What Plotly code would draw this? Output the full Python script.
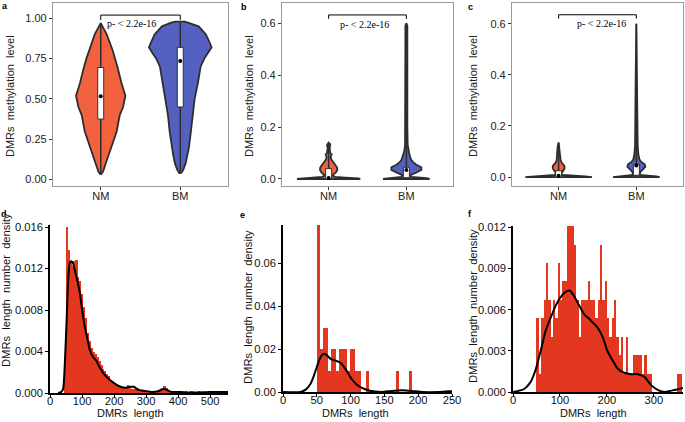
import numpy as np
import plotly.graph_objects as go

W, H = 685, 422
groups = ["NM", "BM"]

# ---------- violin density profiles (level, relative density) ----------
a_nm_y = [0.03, 0.05, 0.10, 0.15, 0.20, 0.25, 0.30, 0.40, 0.45, 0.52, 0.60, 0.70, 0.75, 0.80, 0.90, 0.97]
a_nm_d = [0, 7, 15, 23, 32, 40, 48, 57, 67, 74, 62, 50, 43, 36, 18, 0]
a_bm_y = [0.04, 0.06, 0.10, 0.15, 0.20, 0.30, 0.40, 0.50, 0.60, 0.70, 0.75, 0.78, 0.82, 0.85, 0.90, 0.95, 0.975, 0.98]
a_bm_d = [3, 9, 16, 21, 26, 32, 37, 43, 53, 61, 72, 82, 94, 88, 77, 55, 25, 14]
a_nm_box = [0.375, 0.517, 0.695]
a_bm_box = [0.45, 0.735, 0.82]

b_nm_y = [0, 0.002, 0.005, 0.008, 0.012, 0.018, 0.025, 0.035, 0.045, 0.055, 0.065, 0.075, 0.085, 0.09, 0.095, 0.10, 0.11, 0.12, 0.13, 0.135, 0.14]
b_nm_d = [95, 90, 50, 20, 12, 15, 22, 26, 25, 20, 14, 8, 6, 8, 9, 5, 3, 3, 5, 4, 0]
b_bm_y = [0, 0.003, 0.008, 0.015, 0.025, 0.035, 0.045, 0.055, 0.065, 0.075, 0.09, 0.11, 0.13, 0.2, 0.3, 0.4, 0.5, 0.59, 0.60]
b_bm_d = [70, 60, 15, 12, 30, 45, 45, 30, 20, 14, 10, 6, 4, 3, 3, 3, 3, 3, 0]
b_nm_box = [0.0, 0.004, 0.04]
b_bm_box = [0.005, 0.035, 0.045]

c_nm_y = [0, 0.003, 0.008, 0.015, 0.025, 0.035, 0.045, 0.055, 0.065, 0.08, 0.10, 0.12, 0.135]
c_nm_d = [100, 80, 12, 8, 14, 18, 17, 10, 6, 5, 4, 3, 0]
c_bm_y = [0, 0.003, 0.008, 0.02, 0.03, 0.04, 0.05, 0.06, 0.07, 0.09, 0.12, 0.2, 0.4, 0.6]
c_bm_d = [70, 60, 10, 12, 20, 27, 25, 14, 9, 6, 4, 3, 2, 0]
c_nm_box = [0.0, 0.005, 0.025]
c_bm_box = [0.007, 0.045, 0.05]

p_text = "p- < 2.2e-16"

# ---------- histograms (bin start, width, density) ----------
d_start, d_bw = 44, 6
d_hist = [0.0030, 0.0160, 0.0138, 0.0127, 0.0122, 0.0127, 0.0128, 0.0112, 0.0108, 0.0095,
          0.0083, 0.0072, 0.0058, 0.0050, 0.0043, 0.0040, 0.0038, 0.0035, 0.0031, 0.0027,
          0.0023, 0.0021, 0.0018, 0.0016, 0.0013, 0.0011, 0.0010, 0.0008, 0.0007, 0.0006,
          0.0006, 0.0005, 0.0006, 0.0008, 0.0006, 0.0004, 0.0004, 0.0005, 0.0005, 0.0003,
          0.0003, 0.0002, 0.0002, 0.0002, 0.0001, 0.0002, 0.0001, 0.0001, 0.0002, 0.0002,
          0.0003, 0.0004, 0.0007, 0.0005, 0.0002, 0.0001, 0.0001, 0.0000, 0.0001, 0.0002,
          0.0001, 0.0001, 0.0000, 0.0001, 0.0000, 0.0000, 0.0001, 0.0000, 0.0000, 0.0000,
          0.0001, 0.0000, 0.0000, 0.0000, 0.0000, 0.0001, 0.0002, 0.0001, 0.0001, 0.0000,
          0.0001, 0.0001, 0.0001, 0.0001, 0.0001, 0.0000]
d_kde_x = [25, 35, 41, 46, 52, 57, 62, 67, 72, 77, 87, 93, 100, 108, 117, 124, 134, 145, 156, 167,
           182, 198, 213, 234, 250, 262, 276, 296, 320, 340, 355, 365, 380, 400, 450, 500, 556]
d_kde_y = [0, 0.0001, 0.0004, 0.0026, 0.0071, 0.0110, 0.0126, 0.0127, 0.0125, 0.0119, 0.0106,
           0.0097, 0.0081, 0.0065, 0.0052, 0.0042, 0.0035, 0.0031, 0.0024, 0.0019, 0.0014,
           0.0010, 0.0007, 0.0005, 0.0006, 0.0006, 0.0003, 0.0002, 0.0001, 0.0002, 0.0004,
           0.0003, 0.0001, 0.0001, 0.00005, 0.0001, 0.0001]

e_start, e_bw = 51, 4
e_hist = [0.078, 0.02, 0.03, 0.03, 0.01, 0.02, 0.02, 0.01, 0.02, 0.02, 0.02, 0.01, 0.02, 0.02,
          0.01, 0.01, 0, 0, 0.01, 0, 0, 0, 0, 0, 0, 0, 0, 0, 0, 0.01, 0, 0, 0, 0, 0.01]
e_kde_x = [0, 26, 33.5, 41, 46, 51, 56, 61, 66, 71, 78.5, 86, 93.5, 101, 108.5, 116, 126, 136,
           146, 161, 176, 191, 206, 231, 246, 250]
e_kde_y = [0, 0, 0.0011, 0.0040, 0.0079, 0.0126, 0.0165, 0.0178, 0.0168, 0.0153, 0.0146, 0.0134,
           0.0102, 0.0063, 0.0036, 0.0020, 0.0008, 0.0002, 0, 0.0005, 0.0008, 0.0005, 0, 0,
           0.0003, 0.0004]

f_start, f_bw = 50, 5
f_hist = [0.0054, 0.0013, 0.0054, 0.0067, 0.0094, 0.0067, 0.0040, 0.0067, 0.0054, 0.0094,
          0.0067, 0.0081, 0.0081, 0.0121, 0.0121, 0.0121, 0.0107, 0.0067, 0.0040, 0.0067,
          0.0067, 0.0067, 0.0081, 0.0067, 0.0067, 0.0054, 0.0067, 0.0107, 0.0067, 0.0081,
          0.0054, 0.0040, 0.0054, 0.0067, 0.0040, 0.0027, 0.0040, 0.0013, 0.0040, 0.0013,
          0.0013, 0.0027, 0.0027, 0.0027, 0.0027, 0.0013, 0.0027, 0.0013, 0.0013,
          0, 0, 0, 0, 0, 0, 0, 0, 0, 0, 0, 0.0013, 0.0013]
f_kde_x = [0, 23, 37, 48, 59, 69, 80, 91, 101, 112, 121, 130, 141, 151, 166, 180, 191, 201, 212,
           223, 237, 251, 266, 280, 294, 309, 323, 337, 351, 362]
f_kde_y = [0, 0.0002, 0.0007, 0.0016, 0.0030, 0.0044, 0.0054, 0.0063, 0.0069, 0.0073, 0.0074,
           0.0070, 0.0063, 0.0057, 0.0052, 0.0047, 0.0040, 0.0030, 0.0023, 0.0017, 0.0014,
           0.0013, 0.0013, 0.0011, 0.0005, 0.00014, 0, 0.0001, 0.0002, 0.0003]

# ---------- styles ----------
NM_COL = "#F2623F"
BM_COL = "#5461C0"
HIST_COL = "#E3371F"
OUT = "#2d2d2d"
SANS = "Liberation Sans, Arial, sans-serif"
SERIF = "Liberation Serif, Times New Roman, serif"

fig = go.Figure()


def dom_x(a, b):
    return [a / W, b / W]


def dom_y(top, bot):
    return [1 - bot / H, 1 - top / H]


def add_violin(xc, ys, ds, scale, color, box, xa, ya, bw):
    ys = np.asarray(ys, float)
    w = np.asarray(ds, float) * scale
    x = np.concatenate([xc + w, (xc - w)[::-1], [xc + w[0]]])
    y = np.concatenate([ys, ys[::-1], [ys[0]]])
    fig.add_trace(go.Scatter(x=x, y=y, mode="lines", fill="toself", fillcolor=color,
                             line=dict(color=OUT, width=1.8), xaxis=xa, yaxis=ya,
                             hoverinfo="skip", showlegend=False))
    fig.add_trace(go.Scatter(x=[xc, xc], y=[ys.min(), ys.max()], mode="lines",
                             line=dict(color=OUT, width=1.5), xaxis=xa, yaxis=ya,
                             hoverinfo="skip", showlegend=False))
    q1, med, q3 = box
    fig.add_trace(go.Scatter(x=[xc - bw, xc + bw, xc + bw, xc - bw, xc - bw],
                             y=[q1, q1, q3, q3, q1], mode="lines", fill="toself",
                             fillcolor="white", line=dict(color=OUT, width=1),
                             xaxis=xa, yaxis=ya, hoverinfo="skip", showlegend=False))
    fig.add_trace(go.Scatter(x=[xc], y=[med], mode="markers",
                             marker=dict(color="black", size=4), xaxis=xa, yaxis=ya,
                             hoverinfo="skip", showlegend=False))


panels_top = [
    ("x", "y", a_nm_y, a_nm_d, a_bm_y, a_bm_d, a_nm_box, a_bm_box, 1 / 238.5, 3 / 79.5),
    ("x2", "y2", b_nm_y, b_nm_d, b_bm_y, b_bm_d, b_nm_box, b_bm_box, 1 / 233, 3 / 77.7),
    ("x3", "y3", c_nm_y, c_nm_d, c_bm_y, c_bm_d, c_nm_box, c_bm_box, 1 / 233, 3 / 77.7),
]
for xa, ya, ny, nd, by, bd, nbox, bbox, sc, bw in panels_top:
    add_violin(1, ny, nd, sc, NM_COL, nbox, xa, ya, bw)
    add_violin(2, by, bd, sc, BM_COL, bbox, xa, ya, bw)


def add_hist(start, bw, vals, kx, ky, xa, ya):
    centers = [start + bw * (i + 0.5) for i in range(len(vals))]
    fig.add_trace(go.Bar(x=centers, y=vals, width=bw, marker=dict(color=HIST_COL, line=dict(width=0)),
                         xaxis=xa, yaxis=ya, hoverinfo="skip", showlegend=False))
    fig.add_trace(go.Scatter(x=kx, y=ky, mode="lines", line=dict(color="black", width=2, shape="spline", smoothing=0.6),
                             xaxis=xa, yaxis=ya, hoverinfo="skip", showlegend=False))


add_hist(d_start, d_bw, d_hist, d_kde_x, d_kde_y, "x4", "y4")
add_hist(e_start, e_bw, e_hist, e_kde_x, e_kde_y, "x5", "y5")
add_hist(f_start, f_bw, f_hist, f_kde_x, f_kde_y, "x6", "y6")

tickfont = dict(family=SANS, size=11, color="#222")
tickfont_b = dict(family=SANS, size=11.2, color="#111")

top_x = dict(range=[0.4, 2.6], tickvals=[1, 2], ticktext=groups, showline=True, mirror=True,
             linecolor="#9a9a9a", linewidth=1.2, ticks="outside", ticklen=3, tickcolor="#333",
             tickfont=tickfont, showgrid=False, zeroline=False, automargin=False,
             ticklabelstandoff=-3)
top_y = dict(showline=True, mirror=True, linecolor="#9a9a9a", linewidth=1.2, ticks="outside",
             ticklen=3, tickcolor="#333", tickfont=tickfont, showgrid=False, zeroline=False,
             automargin=False)

bot_x = dict(showline=True, linecolor="black", linewidth=1.5, ticks="outside", ticklen=3,
             tickcolor="black", tickwidth=1.3, tickfont=tickfont_b, showgrid=False, zeroline=False,
             automargin=False, ticklabelstandoff=-6)
bot_y = dict(showline=True, linecolor="black", linewidth=1.5, ticks="outside", ticklen=3,
             tickcolor="black", tickwidth=1.3, tickfont=tickfont_b, showgrid=False, zeroline=False,
             automargin=False)

fig.update_layout(
    width=W, height=H, margin=dict(l=0, r=0, t=0, b=0, autoexpand=False),
    paper_bgcolor="white", plot_bgcolor="white", bargap=0, showlegend=False,
    xaxis=dict(top_x, domain=dom_x(53, 228), anchor="y"),
    yaxis=dict(top_y, domain=dom_y(3, 186), anchor="x", range=[-0.04, 1.095],
               tickvals=[0, 0.25, 0.5, 0.75, 1.0], tickformat=".2f"),
    xaxis2=dict(top_x, domain=dom_x(282, 453), anchor="y2"),
    yaxis2=dict(top_y, domain=dom_y(3, 186), anchor="x2", range=[-0.027, 0.678],
                tickvals=[0, 0.2, 0.4, 0.6], tickformat=".1f"),
    xaxis3=dict(top_x, domain=dom_x(512, 683), anchor="y3"),
    yaxis3=dict(top_y, domain=dom_y(3, 185.5), anchor="x3", range=[-0.033, 0.681],
                tickvals=[0, 0.2, 0.4, 0.6], tickformat=".1f"),
    xaxis4=dict(bot_x, domain=dom_x(50, 228), anchor="y4", range=[0, 556],
                tickvals=[0, 100, 200, 300, 400, 500]),
    yaxis4=dict(bot_y, domain=dom_y(225, 393), anchor="x4", range=[0, 0.0162],
                tickvals=[0, 0.004, 0.008, 0.012, 0.016], tickformat=".3f"),
    xaxis5=dict(bot_x, domain=dom_x(283, 452), anchor="y5", range=[0, 250],
                tickvals=[0, 50, 100, 150, 200, 250]),
    yaxis5=dict(bot_y, domain=dom_y(225, 392), anchor="x5", range=[0, 0.0779],
                tickvals=[0, 0.02, 0.04, 0.06], tickformat=".2f"),
    xaxis6=dict(bot_x, domain=dom_x(513, 683), anchor="y6", range=[0, 362],
                tickvals=[0, 100, 200, 300]),
    yaxis6=dict(bot_y, domain=dom_y(226, 392), anchor="x6", range=[0, 0.0121],
                tickvals=[0, 0.003, 0.006, 0.009, 0.012], tickformat=".3f"),
)

# significance brackets
brackets = [("x", "y", 1.02, 0.99, 1.39, 0.965),
            ("x2", "y2", 0.632, 0.617, 1.455, 0.596),
            ("x3", "y3", 0.635, 0.620, 1.554, 0.599)]
for xa, ya, top, leg, tx, ty in brackets:
    fig.add_shape(type="path", path=f"M 1,{leg} L 1,{top} L 2,{top} L 2,{leg}",
                  xref=xa, yref=ya, line=dict(color="black", width=1))
    fig.add_annotation(x=tx, y=ty, xref=xa, yref=ya, text=p_text, showarrow=False,
                       xanchor="center", yanchor="middle",
                       font=dict(family=SERIF, size=10, color="black"))

ann = []
# panel letters
for letter, px, py in [("a", 5, 6), ("b", 244, 7), ("c", 470, 7), ("d", 4, 214), ("e", 242, 215), ("f", 470, 214)]:
    ann.append(dict(x=px / W, y=1 - py / H, text=f"<b>{letter}</b>",
                    font=dict(family=SANS, size=9, color="black")))
sp = "\u00a0 "
ytop = f"DMRs{sp}methylation{sp}level"
ybot = f"DMRs{sp}length{sp}number{sp}density"
for px, py in [(10, 96), (249, 96), (473, 96)]:
    ann.append(dict(x=px / W, y=1 - py / H, text=ytop, textangle=-90,
                    font=dict(family=SANS, size=11, color="#222")))
for px, py in [(6, 290), (248, 307), (473, 306)]:
    ann.append(dict(x=px / W, y=1 - py / H, text=ybot, textangle=-90,
                    font=dict(family=SANS, size=11.2, color="#111")))
for px in [130, 355, 593]:
    ann.append(dict(x=px / W, y=1 - 413 / H, text=f"DMRs{sp}length",
                    font=dict(family=SANS, size=11, color="#111")))
for a in ann:
    fig.add_annotation(xref="paper", yref="paper", showarrow=False,
                       xanchor="center", yanchor="middle", **a)

fig.write_html("out.html", config={"displayModeBar": False},
               post_script="document.body.style.margin='0';document.body.style.overflow='hidden';")
